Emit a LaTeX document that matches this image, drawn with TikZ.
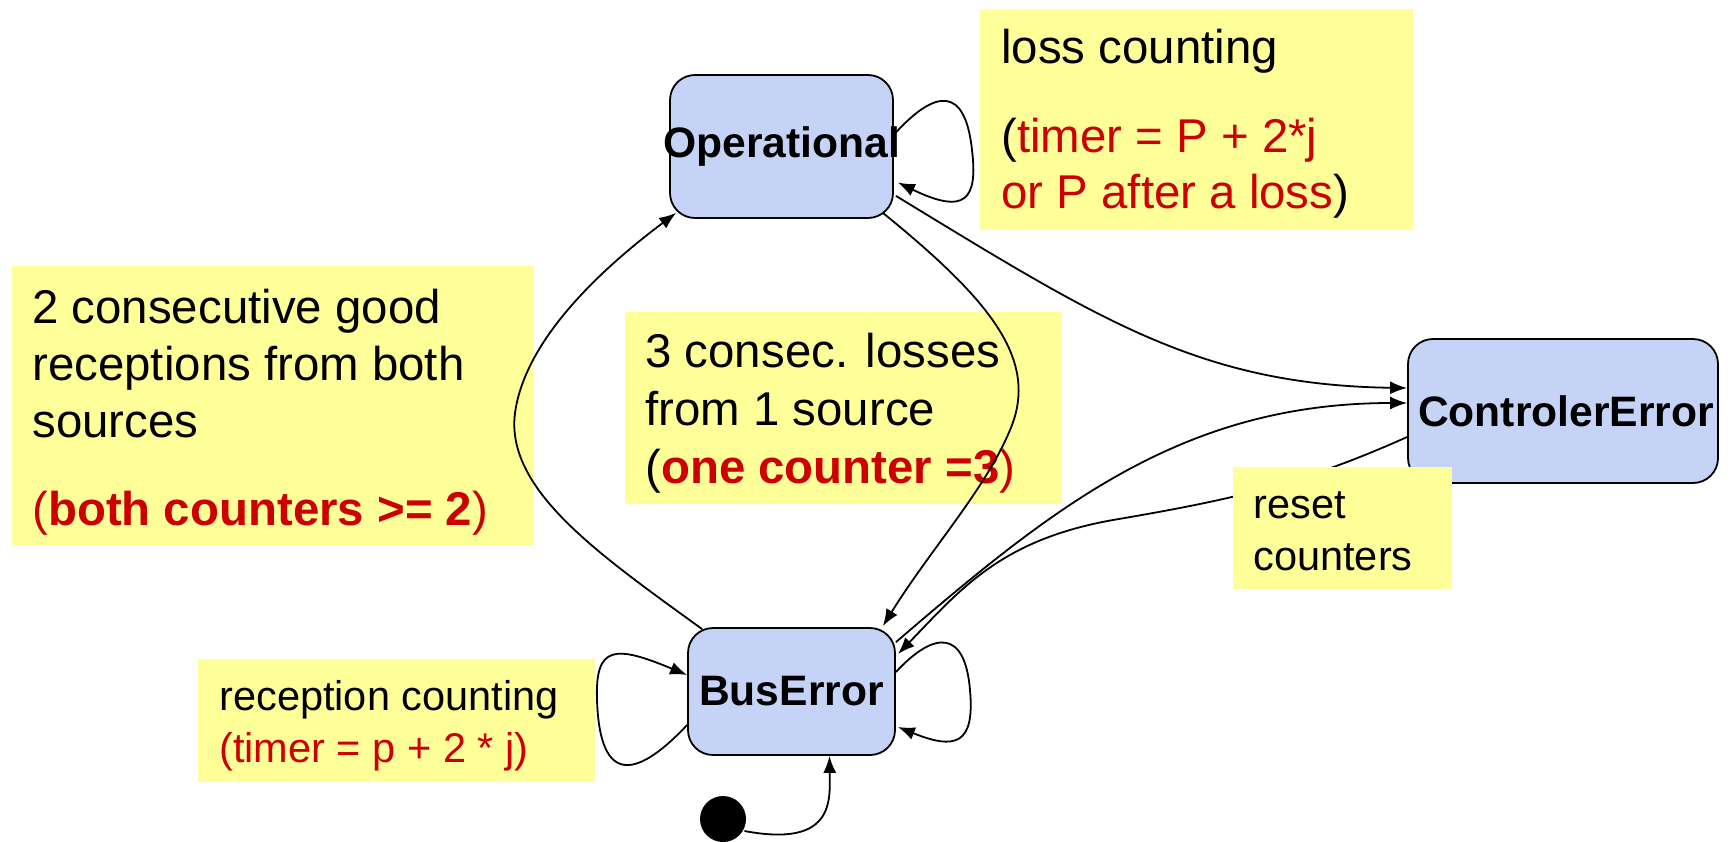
\documentclass[tikz,border=0pt]{standalone}
\usepackage{fontspec}
\setmainfont{Liberation Sans}
\usetikzlibrary{arrows.meta,calc}
\definecolor{notefill}{RGB}{255,255,153}
\definecolor{statefill}{RGB}{197,211,246}
\definecolor{guard}{RGB}{204,0,0}
\begin{document}
\begin{tikzpicture}[x=0.5pt,y=-0.5pt,
  state/.style={draw=black, line width=0.9pt, fill=statefill, rounded corners=12.5pt,
    inner sep=0pt, font=\fontsize{21.3}{24}\selectfont\bfseries},
  note/.style={fill=notefill},
  % text nodes are placed by the baseline of their last line
  notetext/.style={anchor=base west, inner sep=0pt, align=left,
    font=\fontsize{23.7}{28.5}\selectfont},
  smalltext/.style={notetext, font=\fontsize{20.75}{26}\selectfont},
  trans/.style={line width=0.9pt, -{Latex[length=8.5pt,width=6.5pt]}},
]
\useasboundingbox (0,0) rectangle (1733,841);

% comment boxes
\fill[note] (12,266) rectangle (534,545);
\fill[note] (625,312) rectangle (1062,504);
\fill[note] (980,9) rectangle (1413,230);
\fill[note] (198,659) rectangle (595,782);

\node[notetext] (goodtxt) at (32,525)
  {2 consecutive good\\receptions from both\\sources\\[15.5pt]%
   \textcolor{guard}{(\textbf{both counters >= 2})}};
\node[notetext, font=\fontsize{23.7}{29}\selectfont] (losstxt) at (645,483)
  {3 consec. losses\\from 1 source\\(\textcolor{guard}{\textbf{one counter =3})}};
\node[notetext, font=\fontsize{23.7}{28}\selectfont] (counttxt) at (1001,208)
  {loss counting\\[16.5pt](\textcolor{guard}{timer = P + 2*j}\\\textcolor{guard}{or P after a loss})};
\node[smalltext] (recvtxt) at (219,762)
  {reception counting\\\textcolor{guard}{(timer = p + 2 * j)}};

% states
\node[state, minimum width=111.5pt, minimum height=71.5pt] (op) at (781.5,146.5)
  {\makebox[0pt]{Operational}};
\node[state, minimum width=155pt, minimum height=72pt] (ce) at (1563,411)
  {\makebox[0pt]{\hspace{3pt}ControlerError}};
\node[state, minimum width=103.5pt, minimum height=63.5pt] (bus) at (791.5,691.5)
  {\makebox[0pt]{BusError}};
\node[circle, fill=black, minimum size=23pt, inner sep=0pt] (init) at (723,819) {};

% transitions
\draw[trans] ($(init.east)+(-2,12)$) .. controls (835,848) and (830,800) .. ($(bus.south)+(38,0)$);
\draw[trans] ($(op.east)+(2,-14)$) .. controls (935,90) and (965,85) .. (972,150)
  .. controls (978,200) and (965,215) .. ($(op.east)+(4,36)$);
\draw[trans] ($(op.south east)+(2,-23)$) .. controls (1100,320) and (1200,385) .. ($(ce.west)+(0,-23)$);
\draw[trans] ($(op.south east)+(-11,-6)$) .. controls (990,300) and (1040,360) .. (1010,430)
  .. controls (985,490) and (930,550) .. ($(bus.north east)+(-13,-1)$);
\draw[trans] ($(bus.north west)+(15,2)$) .. controls (600,555) and (505,490) .. (515,413)
  .. controls (525,340) and (600,270) .. ($(op.south west)+(7,-6)$);
\draw[trans] ($(bus.north east)+(0,15)$) .. controls (1050,510) and (1180,403) .. ($(ce.west)+(0,-8)$);
\draw[trans] ($(ce.west)+(0,26)$) .. controls (1300,485) and (1230,500) .. (1113,520)
  .. controls (1000,540) and (960,590) .. ($(bus.north east)+(2,27)$);
\draw[trans] ($(bus.east)+(0,-19.5)$) .. controls (935,630) and (965,630) .. (970,690)
  .. controls (975,745) and (955,750) .. ($(bus.east)+(2,35.5)$);
\draw[trans] ($(bus.west)+(0,33.5)$) .. controls (640,775) and (600,790) .. (597,700)
  .. controls (595,645) and (615,645) .. ($(bus.west)+(0,-16.5)$);

% reset box lies over the return transition
\fill[note] (1233,467) rectangle (1452,589);
\node[smalltext] (resettxt) at (1253,570) {reset\\counters};
\end{tikzpicture}
\end{document}
